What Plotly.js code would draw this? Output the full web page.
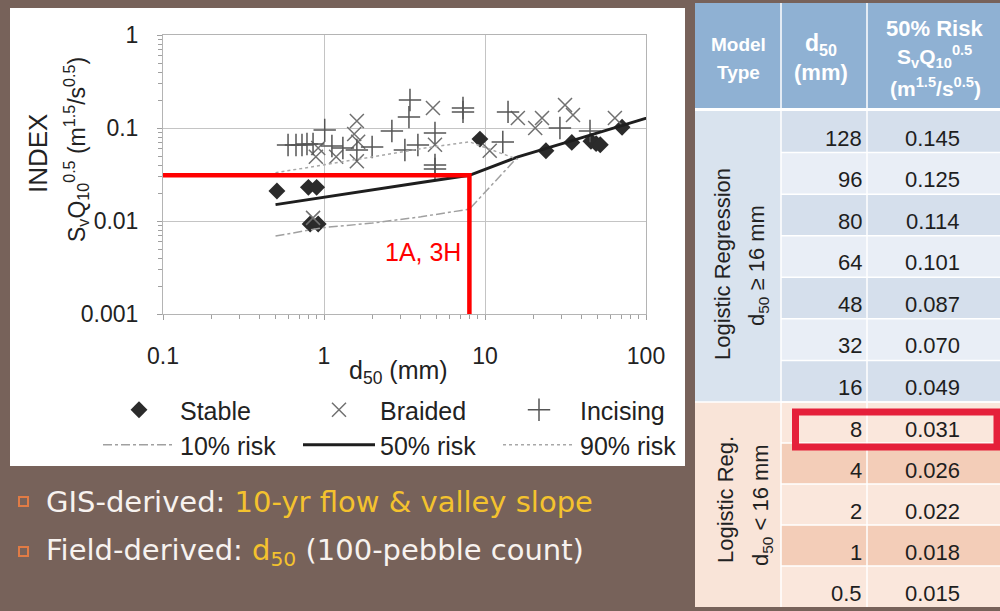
<!DOCTYPE html>
<html><head><meta charset="utf-8">
<script src="https://cdn.plot.ly/plotly-3.0.1.min.js"></script>
<style>html,body{margin:0;padding:0;background:#77625a;}#chart{width:1000px;height:611px;}</style>
</head><body><div id="chart"></div>
<script>
// ---------- data ----------
const stableD50   = [0.51, 0.80, 0.90, 0.82, 0.92, 9.3, 23.9, 34.6, 45.5, 49, 52, 71];
const stableIndex = [0.021, 0.023, 0.023, 0.0093, 0.0093, 0.076, 0.057, 0.070, 0.072, 0.068, 0.066, 0.102];

const braidedD50   = [0.89, 1.19, 1.60, 1.60, 1.54, 1.63, 0.92, 0.855, 4.75, 4.89, 10.7, 16.0, 20.5, 22.6, 31.4, 35.2, 64.1, 101];
const braidedIndex = [0.049, 0.049, 0.044, 0.119, 0.086, 0.071, 0.061, 0.0108, 0.164, 0.066, 0.057, 0.128, 0.100, 0.128, 0.177, 0.138, 0.128, 0.226];

const incisingD50   = [0.598, 0.670, 0.730, 0.784, 0.855, 1.01, 1.12, 1.31, 1.60, 1.99, 2.64, 3.18, 3.83, 4.89, 4.89, 4.89, 3.42, 3.37, 7.3, 7.3, 13.9, 12.9, 29.2, 44.9];
const incisingIndex = [0.0657, 0.0657, 0.0657, 0.0673, 0.0673, 0.0952, 0.064, 0.061, 0.058, 0.0625, 0.0929, 0.058, 0.0657, 0.0884, 0.040, 0.0362, 0.20, 0.131, 0.164, 0.149, 0.149, 0.0707, 0.100, 0.0929];

const risk10D50   = [0.5, 1, 2, 4, 8, 16];
const risk10Index = [0.0069, 0.0085, 0.0095, 0.0111, 0.0134, 0.049];
const risk90D50   = [0.5, 1, 2, 4, 8, 16];
const risk90Index = [0.033, 0.040, 0.049, 0.060, 0.071, 0.046];

// table: 50% risk values (also the 50% risk line)
const tableD50   = [128, 96, 80, 64, 48, 32, 16, 8, 4, 2, 1, 0.5];
const tableRisk50 = [0.145, 0.125, 0.114, 0.101, 0.087, 0.070, 0.049, 0.031, 0.026, 0.022, 0.018, 0.015];
const highlightRow = 7;   // d50 = 8 mm

const xTickVals = [0.1, 1, 10, 100];
const xTickText = ['0.1', '1', '10', '100'];
const yTickVals = [0.001, 0.01, 0.1, 1];
const yTickText = ['0.001', '0.01', '0.1', '1'];

// ---------- helpers ----------
const W = 1000, H = 611;
const X = p => p / W;
const Y = p => 1 - p / H;
const FONT = 'Arial, "Liberation Sans", sans-serif';

const pairs50 = tableD50.map((d, i) => [d, tableRisk50[i]]).sort((a, b) => a[0] - b[0]);
const hlD50 = tableD50[highlightRow], hlRisk = tableRisk50[highlightRow];

const traces = [
  {x: stableD50, y: stableIndex, name: 'Stable', mode: 'markers', type: 'scatter', legend: 'legend',
   marker: {symbol: 'diamond', size: 13, color: '#2b2b2b'}},
  {x: braidedD50, y: braidedIndex, name: 'Braided', mode: 'markers', type: 'scatter', legend: 'legend', cliponaxis: false,
   marker: {symbol: 'x-thin-open', size: 14, color: '#707070', line: {color: '#707070', width: 1.5}}},
  {x: incisingD50, y: incisingIndex, name: 'Incising', mode: 'markers', type: 'scatter', legend: 'legend',
   marker: {symbol: 'cross-thin-open', size: 16, color: '#555555', line: {color: '#555555', width: 1.5}}},
  {x: risk10D50, y: risk10Index, name: '10% risk', mode: 'lines', type: 'scatter', legend: 'legend2',
   line: {color: '#a0a0a0', width: 1.5, dash: 'dashdot'}},
  {x: pairs50.map(p => p[0]), y: pairs50.map(p => p[1]), name: '50% risk', mode: 'lines', type: 'scatter', legend: 'legend2',
   line: {color: '#1e1e1e', width: 3}},
  {x: risk90D50, y: risk90Index, name: '90% risk', mode: 'lines', type: 'scatter', legend: 'legend2',
   line: {color: '#a8a8a8', width: 1.5, dash: 'dot'}},
  {x: [xTickVals[0], hlD50, hlD50], y: [hlRisk, hlRisk, yTickVals[0]], mode: 'lines', type: 'scatter', showlegend: false,
   line: {color: '#ff0000', width: 4.5}}
];

const shapes = [];
function rect(x0, y0, x1, y1, fill, lineColor, lineWidth) {
  shapes.push({type: 'rect', xref: 'paper', yref: 'paper', layer: 'below',
    x0: X(x0), x1: X(x1), y0: Y(y0), y1: Y(y1),
    fillcolor: fill || 'rgba(0,0,0,0)',
    line: {color: lineColor || 'rgba(0,0,0,0)', width: lineWidth || 0}});
}
function hline(x0, x1, y, color, w) {
  shapes.push({type: 'line', xref: 'paper', yref: 'paper', x0: X(x0), x1: X(x1), y0: Y(y), y1: Y(y), line: {color: color, width: w}});
}
function vline(x, y0, y1, color, w) {
  shapes.push({type: 'line', xref: 'paper', yref: 'paper', x0: X(x), x1: X(x), y0: Y(y0), y1: Y(y1), line: {color: color, width: w}});
}

// white chart panel
rect(10, 8, 685, 466, '#ffffff');

// table geometry
const tL = 695, c1 = 781, c2 = 867, tR = 1003;
const headTop = 3, headBot = 108, bodyTop = 111, splitY = 402, bodyBot = 607;
function rowTop(i) { return i < 7 ? bodyTop + i * (splitY - bodyTop) / 7 : splitY + (i - 7) * (bodyBot - splitY) / 5; }
function rowBot(i) { return i < 11 ? rowTop(i + 1) : bodyBot; }

rect(tL, headTop, tR, headBot, '#8fb1d3');
rect(tL, headBot, tR, bodyTop, '#ffffff');
rect(tL, bodyTop, c1, splitY, '#d9e3ee');
rect(tL, splitY, c1, bodyBot, '#f9e4d8');
const blueDark = '#d5dfec', blueLight = '#e9eef6', peachLight = '#fae7dc', peachDark = '#f3cdb8';
tableD50.forEach((d, i) => {
  let fill;
  if (i < 7) fill = (i % 2 === 0) ? blueDark : blueLight;
  else fill = ((i - 7) % 2 === 0) ? peachLight : peachDark;
  rect(c1, rowTop(i), tR, rowBot(i), fill);
});
tableD50.forEach((d, i) => { if (i > 0) hline(c1, tR, rowTop(i), '#ffffff', 1.5); });
hline(tL, tR, splitY, '#ffffff', 1.5);
vline(c1, headTop, bodyBot, '#ffffff', 1.5);
vline(c2, headTop, bodyBot, '#ffffff', 1.5);

// highlight box around d50 = 8 row
shapes.push({type: 'rect', xref: 'paper', yref: 'paper', layer: 'above',
  x0: X(795.5), x1: X(997), y0: Y(412), y1: Y(447),
  fillcolor: 'rgba(0,0,0,0)', line: {color: '#e5203a', width: 7}});

// bullets
rect(19, 497, 28, 506, 'rgba(0,0,0,0)', '#e07b45', 2);
rect(19, 547, 28, 556, 'rgba(0,0,0,0)', '#e07b45', 2);

const annotations = [];
function ann(text, x, y, size, color, opts) {
  annotations.push(Object.assign({text: text, xref: 'paper', yref: 'paper', x: X(x), y: Y(y),
    showarrow: false, xanchor: 'center', yanchor: 'middle',
    font: {family: FONT, size: size, color: color}}, opts || {}));
}
// chart texts
ann('INDEX', 38, 154, 26, '#222222', {textangle: -90});
ann('S<sub>v</sub>Q<sub>10</sub><sup>0.5</sup> (m<sup>1.5</sup>/s<sup>0.5</sup>)', 76, 150, 23, '#222222', {textangle: -90});
ann('d<sub>50</sub> (mm)', 398, 372, 25, '#222222');
ann('1A, 3H', 423, 252, 25, '#ff0000');

// table header
ann('<b>Model</b>', 738, 44, 19, '#ffffff');
ann('<b>Type</b>', 738, 72, 19, '#ffffff');
ann('<b>d<sub>50</sub></b>', 821, 44, 23, '#ffffff');
ann('<b>(mm)</b>', 821, 72, 22, '#ffffff');
ann('<b>50% Risk</b>', 934, 29, 22, '#ffffff');
ann('<b>S<sub>v</sub>Q<sub>10</sub><sup>0.5</sup></b>', 934, 57, 21, '#ffffff');
ann('<b>(m<sup>1.5</sup>/s<sup>0.5</sup>)</b>', 935, 87, 21, '#ffffff');

// table body
tableD50.forEach((d, i) => {
  const yc = rowTop(i) + 27;
  ann(String(d), 864, yc, 22, '#1e1e1e', {xanchor: 'right'});
  ann(tableRisk50[i].toFixed(3), 932, yc, 22, '#1e1e1e');
});
ann('Logistic Regression', 722, 264, 22, '#222222', {textangle: -90});
ann('d<sub>50</sub> ≥ 16 mm', 758, 266, 22, '#222222', {textangle: -90});
ann('Logistic Reg.', 725, 500, 22, '#222222', {textangle: -90});
ann('d<sub>50</sub> < 16 mm', 762, 505, 22, '#222222', {textangle: -90});

// bullet text
const BFONT = '"DejaVu Sans", sans-serif';
ann('GIS-derived: <span style="color:#f4c22e">10-yr flow &amp; valley slope</span>', 44, 502, 29, '#f7f2ef', {xanchor: 'left', font: {family: BFONT, size: 29, color: '#f7f2ef'}});
ann('Field-derived: <span style="color:#f4c22e">d<sub>50</sub></span> (100-pebble count)', 44, 552, 29, '#f7f2ef', {xanchor: 'left', font: {family: BFONT, size: 29, color: '#f7f2ef'}});

const legendBase = {orientation: 'h', xref: 'paper', yref: 'paper', x: 0.098, xanchor: 'left', yanchor: 'middle',
  itemwidth: 72, entrywidth: 113, entrywidthmode: 'pixels', bgcolor: 'rgba(0,0,0,0)', borderwidth: 0,
  font: {family: FONT, size: 25, color: '#222222'}, itemclick: false, itemdoubleclick: false, traceorder: 'normal'};

const layout = {
  width: W, height: H,
  margin: {l: 0, r: 0, t: 0, b: 0},
  paper_bgcolor: '#77625a', plot_bgcolor: 'rgba(0,0,0,0)',
  showlegend: true,
  legend: Object.assign({}, legendBase, {y: Y(410)}),
  legend2: Object.assign({}, legendBase, {y: Y(445)}),
  hovermode: false,
  xaxis: {type: 'log', domain: [0.163, 0.646], range: [-1, 2], tickvals: xTickVals, ticktext: xTickText,
    showgrid: true, gridcolor: '#c4c4c4', gridwidth: 1, showline: true, linecolor: '#b4b4b4', linewidth: 1, mirror: true,
    ticks: 'outside', ticklen: 5, tickcolor: '#a0a0a0', ticklabelstandoff: 16, zeroline: false,
    minor: {ticks: 'outside', ticklen: 4, tickcolor: '#a0a0a0', dtick: 'D1', showgrid: false},
    tickfont: {family: FONT, size: 23, color: '#222222'}},
  yaxis: {type: 'log', domain: [Y(314), Y(35)], range: [-3, 0], tickvals: yTickVals, ticktext: yTickText,
    showgrid: true, gridcolor: '#c4c4c4', gridwidth: 1, showline: true, linecolor: '#b4b4b4', linewidth: 1, mirror: true,
    ticks: 'outside', ticklen: 5, tickcolor: '#a0a0a0', ticklabelstandoff: 14, zeroline: false,
    minor: {ticks: 'outside', ticklen: 4, tickcolor: '#a0a0a0', dtick: 'D1', showgrid: false},
    tickfont: {family: FONT, size: 23, color: '#222222'}},
  shapes: shapes,
  annotations: annotations
};

Plotly.newPlot('chart', traces, layout, {displayModeBar: false, staticPlot: true});
</script>
</body></html>
